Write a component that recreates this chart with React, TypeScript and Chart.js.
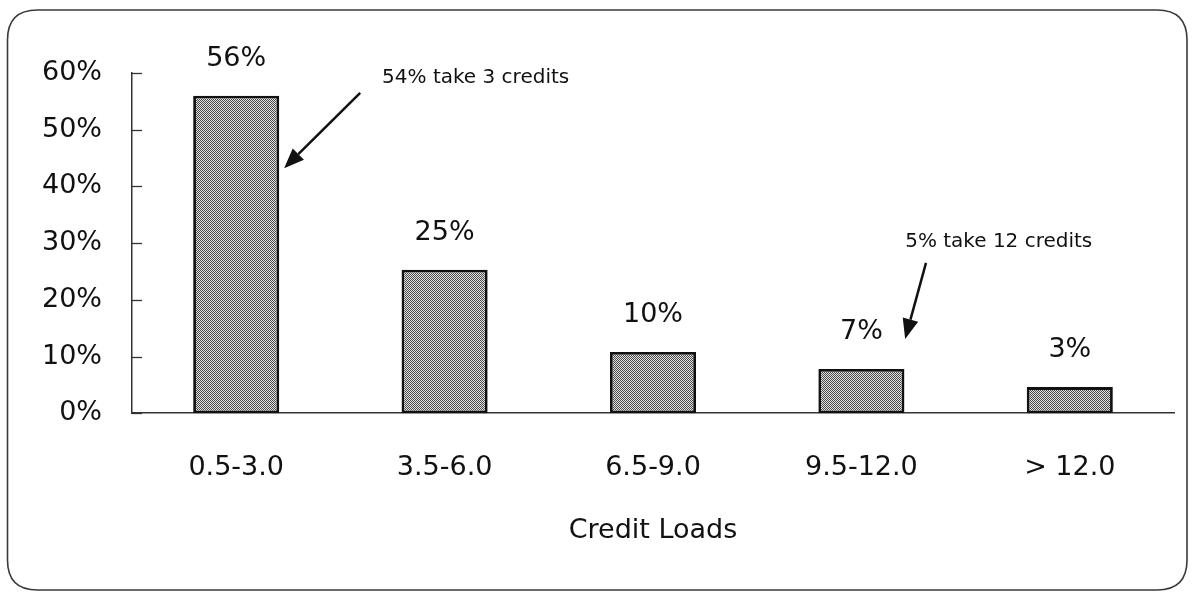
import React, { useEffect, useRef } from "react";
import { Chart, registerables } from "chart.js";

Chart.register(...registerables);

const categories = ["0.5-3.0", "3.5-6.0", "6.5-9.0", "9.5-12.0", "> 12.0"];
const shares = [56, 25.3, 10.8, 7.8, 4.6];
const shareLabels = ["56%", "25%", "10%", "7%", "3%"];
const yMin = 0;
const yMax = 60;
const yStep = 10;
const axisTitle = "Credit Loads";

// callouts in data coordinates (category index, percent value)
const noteTexts = ["54% take 3 credits", "5% take 12 credits"];
const noteTextAt = [
  [0.7, 59.1],
  [3.21, 30.3],
];
const noteArrowFrom = [
  [0.595, 56.5],
  [3.31, 26.5],
];
const noteArrowTo = [
  [0.23, 43.2],
  [3.21, 13.1],
];

const FONT = "'DejaVu Sans', sans-serif";

function makePattern(): CanvasPattern | string {
  const c = document.createElement("canvas");
  c.width = 2;
  c.height = 2;
  const g = c.getContext("2d");
  if (!g) return "#aaa";
  g.fillStyle = "#e2e2e2";
  g.fillRect(0, 0, 2, 2);
  g.fillStyle = "#4a4a4a";
  g.fillRect(0, 0, 1, 1);
  g.fillRect(1, 1, 1, 1);
  const p = g.createPattern(c, "repeat");
  return p || "#aaa";
}

const decorPlugin = {
  id: "decor",
  beforeDraw(chart: any) {
    const ctx = chart.ctx;
    ctx.save();
    ctx.fillStyle = "#ffffff";
    ctx.fillRect(0, 0, chart.width, chart.height);
    const x0 = 7.5, y0 = 10, x1 = 1187, y1 = 590, r = 30;
    ctx.beginPath();
    ctx.moveTo(x0 + r, y0);
    ctx.lineTo(x1 - r, y0);
    ctx.quadraticCurveTo(x1, y0, x1, y0 + r);
    ctx.lineTo(x1, y1 - r);
    ctx.quadraticCurveTo(x1, y1, x1 - r, y1);
    ctx.lineTo(x0 + r, y1);
    ctx.quadraticCurveTo(x0, y1, x0, y1 - r);
    ctx.lineTo(x0, y0 + r);
    ctx.quadraticCurveTo(x0, y0, x0 + r, y0);
    ctx.closePath();
    ctx.strokeStyle = "#3a3a3a";
    ctx.lineWidth = 1.6;
    ctx.stroke();
    ctx.restore();
  },
  afterDraw(chart: any) {
    const ctx = chart.ctx;
    const xs = chart.scales.x;
    const ys = chart.scales.y;
    const area = chart.chartArea;
    ctx.save();
    // inward y tick marks
    ctx.strokeStyle = "#333";
    ctx.lineWidth = 1.3;
    for (let v = yMin; v <= yMax; v += yStep) {
      const y = Math.round(ys.getPixelForValue(v)) + 0.5;
      ctx.beginPath();
      ctx.moveTo(area.left, y);
      ctx.lineTo(area.left + 10, y);
      ctx.stroke();
    }
    // value labels
    ctx.fillStyle = "#111";
    ctx.font = `27px ${FONT}`;
    ctx.textAlign = "center";
    ctx.textBaseline = "middle";
    const meta = chart.getDatasetMeta(0);
    meta.data.forEach((bar: any, i: number) => {
      ctx.fillText(shareLabels[i], bar.x, bar.y - 37);
    });
    // callouts
    ctx.font = `20px ${FONT}`;
    ctx.textAlign = "left";
    noteTexts.forEach((t, i) => {
      const tx = xs.getPixelForValue(noteTextAt[i][0]);
      const ty = ys.getPixelForValue(noteTextAt[i][1]);
      ctx.fillText(t, tx, ty);
      const fx = xs.getPixelForValue(noteArrowFrom[i][0]);
      const fy = ys.getPixelForValue(noteArrowFrom[i][1]);
      const ex = xs.getPixelForValue(noteArrowTo[i][0]);
      const ey = ys.getPixelForValue(noteArrowTo[i][1]);
      const ang = Math.atan2(ey - fy, ex - fx);
      const headLen = 20;
      const headW = 8;
      const bx = ex - headLen * Math.cos(ang);
      const by = ey - headLen * Math.sin(ang);
      ctx.strokeStyle = "#111";
      ctx.lineWidth = 2.5;
      ctx.beginPath();
      ctx.moveTo(fx, fy);
      ctx.lineTo(bx, by);
      ctx.stroke();
      ctx.fillStyle = "#111";
      ctx.beginPath();
      ctx.moveTo(ex, ey);
      ctx.lineTo(bx + headW * Math.sin(ang), by - headW * Math.cos(ang));
      ctx.lineTo(bx - headW * Math.sin(ang), by + headW * Math.cos(ang));
      ctx.closePath();
      ctx.fill();
    });
    ctx.restore();
  },
};

export default function App() {
  const ref = useRef<HTMLCanvasElement | null>(null);
  useEffect(() => {
    if (!ref.current) return;
    const pattern = makePattern();
    const chart = new Chart(ref.current, {
      type: "bar",
      data: {
        labels: categories,
        datasets: [
          {
            data: shares,
            backgroundColor: pattern as any,
            borderColor: "#111",
            borderWidth: 2.8,
            borderSkipped: false,
            categoryPercentage: 1,
            barPercentage: 0.413,
          },
        ],
      },
      options: {
        responsive: false,
        animation: false,
        layout: { padding: { left: 32, right: 18, top: 73, bottom: 48 } },
        plugins: {
          legend: { display: false },
          tooltip: { enabled: false },
          title: { display: false },
        },
        scales: {
          x: {
            grid: { display: false, drawTicks: false },
            border: { display: true, color: "#333", width: 1.5 },
            ticks: {
              color: "#111",
              font: { family: FONT, size: 27 },
              padding: 39,
              maxRotation: 0,
            },
            title: {
              display: true,
              text: axisTitle,
              color: "#111",
              font: { family: FONT, size: 27 },
              padding: { top: -9, bottom: 0 },
            },
          },
          y: {
            min: yMin,
            max: yMax,
            afterFit: (s: any) => {
              s.width = 100;
            },
            grid: { display: false, drawTicks: false },
            border: { display: true, color: "#333", width: 1.5 },
            ticks: {
              stepSize: yStep,
              color: "#111",
              font: { family: FONT, size: 27 },
              padding: 30,
              callback: (v: any) => `${v}%`,
            },
          },
        },
      },
      plugins: [decorPlugin],
    });
    return () => chart.destroy();
  }, []);
  return (
    <div style={{ position: "absolute", left: 0, top: 0, width: 1192, height: 595 }}>
      <canvas ref={ref} width={1192} height={595} style={{ display: "block" }} />
    </div>
  );
}
